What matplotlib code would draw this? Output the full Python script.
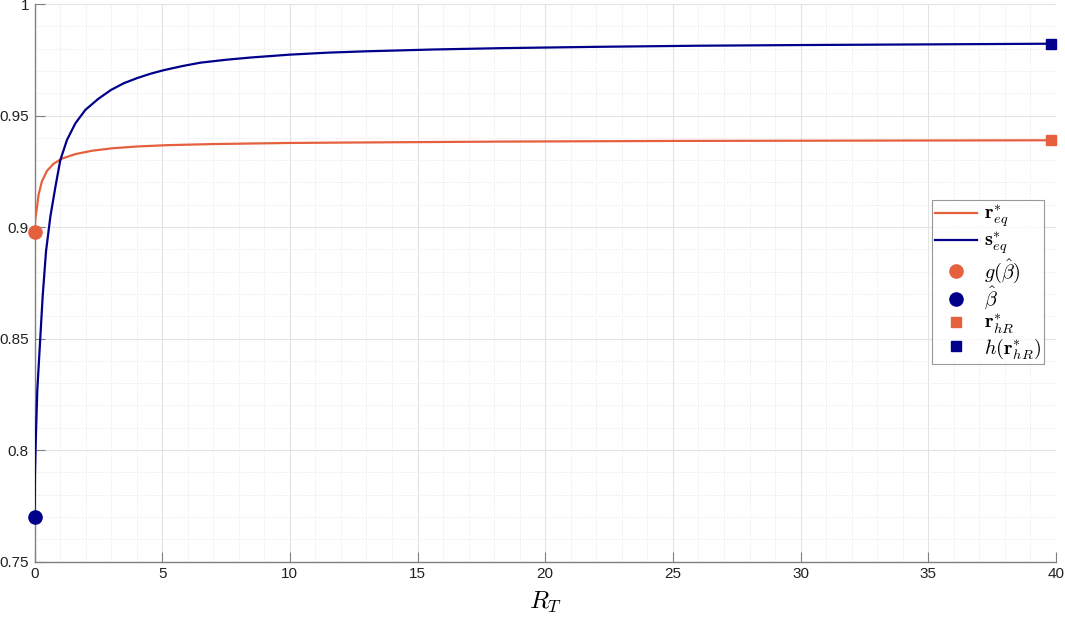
import numpy as np
import matplotlib
matplotlib.use('Agg')
from matplotlib import pyplot as plt
from matplotlib.lines import Line2D
from matplotlib.ticker import MultipleLocator

# Colors
RED = '#E5603D'
BLUE = '#00008B'

# Data
rt_s = [0, 0.02, 0.05, 0.11, 0.22, 0.32, 0.45, 0.62, 0.82, 1.01, 1.27, 1.6,
        1.99, 2.5, 3.0, 3.5, 4.0, 4.53, 5.05, 5.8, 6.5, 7.5, 8.45, 10, 11.5,
        13, 15.6, 18.25, 22, 26, 30, 35, 39.8]
s_eq = [0.770, 0.790, 0.8045, 0.827, 0.849, 0.869, 0.889, 0.9046, 0.9181,
        0.930, 0.939, 0.9465, 0.9525, 0.9575, 0.9615, 0.9645, 0.9667, 0.9687,
        0.9703, 0.9722, 0.9737, 0.9750, 0.9760, 0.9773, 0.9782, 0.9788,
        0.9796, 0.9802, 0.9808, 0.9813, 0.9816, 0.9819, 0.9822]

rt_r = [0, 0.03, 0.1, 0.16, 0.29, 0.49, 0.75, 1.08, 1.6, 2.25, 3.04, 4.0,
        5.18, 7, 10, 14, 18.2, 25, 30, 39.8]
r_eq = [0.8976, 0.9035, 0.9091, 0.9145, 0.9205, 0.9252, 0.9284, 0.9307,
        0.9327, 0.9342, 0.9353, 0.9361, 0.9367, 0.9372, 0.9377, 0.9380,
        0.9383, 0.9386, 0.9387, 0.9389]

g_beta_hat = 0.8976
beta_hat = 0.770
r_hR = 0.9389
h_r_hR = 0.9822

x_ticks = [0, 5, 10, 15, 20, 25, 30, 35, 40]
y_ticks = [0.75, 0.8, 0.85, 0.9, 0.95, 1]
y_labels = ['0.75', '0.8', '0.85', '0.9', '0.95', '1']

plt.rcParams['mathtext.fontset'] = 'cm'
plt.rcParams['font.family'] = 'Liberation Sans'

fig = plt.figure(figsize=(10.65, 6.18), dpi=100)
ax = fig.add_axes([0.0324, 0.0914, 0.9591, 0.9021])

ax.plot(rt_r, r_eq, color=RED, lw=1.6, zorder=3)
ax.plot(rt_s, s_eq, color=BLUE, lw=1.6, zorder=3)
ax.plot(rt_r[0], g_beta_hat, 'o', color=RED, ms=9.5, zorder=4, clip_on=False)
ax.plot(rt_s[0], beta_hat, 'o', color=BLUE, ms=9.5, zorder=4, clip_on=False)
ax.plot(rt_r[-1], r_hR, 's', color=RED, ms=7.5, zorder=4, clip_on=False)
ax.plot(rt_s[-1], h_r_hR, 's', color=BLUE, ms=7.5, zorder=4, clip_on=False)

ax.set_xlim(0, 40)
ax.set_ylim(0.75, 1)
ax.set_xticks(x_ticks)
ax.set_yticks(y_ticks)
ax.set_yticklabels(y_labels)
ax.xaxis.set_minor_locator(MultipleLocator(1))
ax.yaxis.set_minor_locator(MultipleLocator(0.01))

# Matlab style grid
ax.grid(True, which='major', color='#e3e3e3', lw=0.8, zorder=0)
ax.grid(True, which='minor', color='#ececec', lw=0.7, ls=(0, (1.5, 1.5)), zorder=0)
ax.set_axisbelow(True)

for side in ['top', 'right']:
    ax.spines[side].set_visible(False)
for side in ['left', 'bottom']:
    ax.spines[side].set_color('#808080')
    ax.spines[side].set_linewidth(1.0)
ax.tick_params(which='major', direction='in', length=7, color='#808080',
               labelsize=11, labelcolor='#222222', pad=4)
ax.tick_params(which='minor', length=0)

ax.set_xlabel(r'$R_T$', fontsize=18, labelpad=6)

handles = [
    Line2D([], [], color=RED, lw=1.6),
    Line2D([], [], color=BLUE, lw=1.6),
    Line2D([], [], color=RED, marker='o', ms=9.5, ls='none'),
    Line2D([], [], color=BLUE, marker='o', ms=9.5, ls='none'),
    Line2D([], [], color=RED, marker='s', ms=7, ls='none'),
    Line2D([], [], color=BLUE, marker='s', ms=7, ls='none'),
]
labels = [r'$\mathbf{r}^{*}_{eq}$', r'$\mathbf{s}^{*}_{eq}$',
          r'$g(\hat{\beta})$', r'$\hat{\beta}$',
          r'$\mathbf{r}^{*}_{hR}$', r'$h(\mathbf{r}^{*}_{hR})$']
leg = ax.legend(handles, labels, loc='upper left', bbox_to_anchor=(0.879, 0.648),
                fontsize=14.5, frameon=True, fancybox=False, edgecolor='#808080',
                handlelength=2.05, handletextpad=0.35, borderpad=0.15,
                labelspacing=0.0, borderaxespad=0)
leg.get_frame().set_linewidth(0.8)

fig.savefig('out.png', dpi=100)
